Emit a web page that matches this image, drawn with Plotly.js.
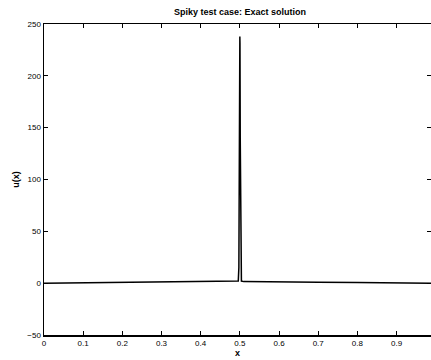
<!DOCTYPE html>
<html>
<head>
<meta charset="utf-8">
<script src="https://cdn.plot.ly/plotly-3.0.1.min.js"></script>
<style>html,body{margin:0;padding:0;background:#fff;}#chart{width:431px;height:360px;}</style>
</head>
<body>
<div id="chart"></div>
<script>
// Data
const xValues = [0, 0.05, 0.1, 0.2, 0.3, 0.4, 0.45, 0.49, 0.496, 0.4975, 0.499, 0.4997, 0.5, 0.5003, 0.501, 0.5025, 0.504, 0.51, 0.55, 0.6, 0.7, 0.8, 0.9, 0.95, 1.0];
const uValues = [0, 0.2, 0.4, 0.6, 0.8, 1, 1.2, 1.5, 2, 15, 140, 232, 238, 232, 140, 15, 2, 1.5, 1.2, 1, 0.8, 0.6, 0.4, 0.2, 0];
const xTickVals = [0, 0.1, 0.2, 0.3, 0.4, 0.5, 0.6, 0.7, 0.8, 0.9];
const xTickText = ["0", "0.1", "0.2", "0.3", "0.4", "0.5", "0.6", "0.7", "0.8", "0.9"];
const yTickVals = [-50, 0, 50, 100, 150, 200, 250];

const trace = {
  x: xValues, y: uValues, type: 'scatter', mode: 'lines',
  line: {color: '#000', width: 1.5}, hoverinfo: 'skip'
};
const layout = {
  width: 431, height: 360,
  margin: {l: 44, r: 0, t: 24, b: 25},
  paper_bgcolor: '#fff', plot_bgcolor: '#fff',
  showlegend: false,
  font: {family: 'Liberation Sans, Arial, sans-serif', color: '#000', size: 8},
  title: {text: '<b>Spiky test case: Exact solution</b>', x: 0.557, xanchor: 'center', y: 0.975, yanchor: 'top', font: {size: 9, color: '#000'}},
  xaxis: {
    range: [0, 0.988], tickmode: 'array', tickvals: xTickVals, ticktext: xTickText,
    ticks: 'inside', ticklen: 4, tickcolor: '#000', showline: true, linecolor: '#000', linewidth: 1.5,
    mirror: 'ticks', showgrid: false, zeroline: false,
    tickfont: {size: 8}, title: {text: '<b>x</b>', font: {size: 9}, standoff: 2}
  },
  yaxis: {
    range: [-50, 250], tickmode: 'array', tickvals: yTickVals,
    ticks: 'inside', ticklen: 4, tickcolor: '#000', showline: true, linecolor: '#000', linewidth: 1.5,
    mirror: 'ticks', showgrid: false, zeroline: false,
    tickfont: {size: 8}, title: {text: '<b>u(x)</b>', font: {size: 9}, standoff: 6}
  }
};
Plotly.newPlot('chart', [trace], layout, {staticPlot: true, displayModeBar: false});
</script>
</body>
</html>
